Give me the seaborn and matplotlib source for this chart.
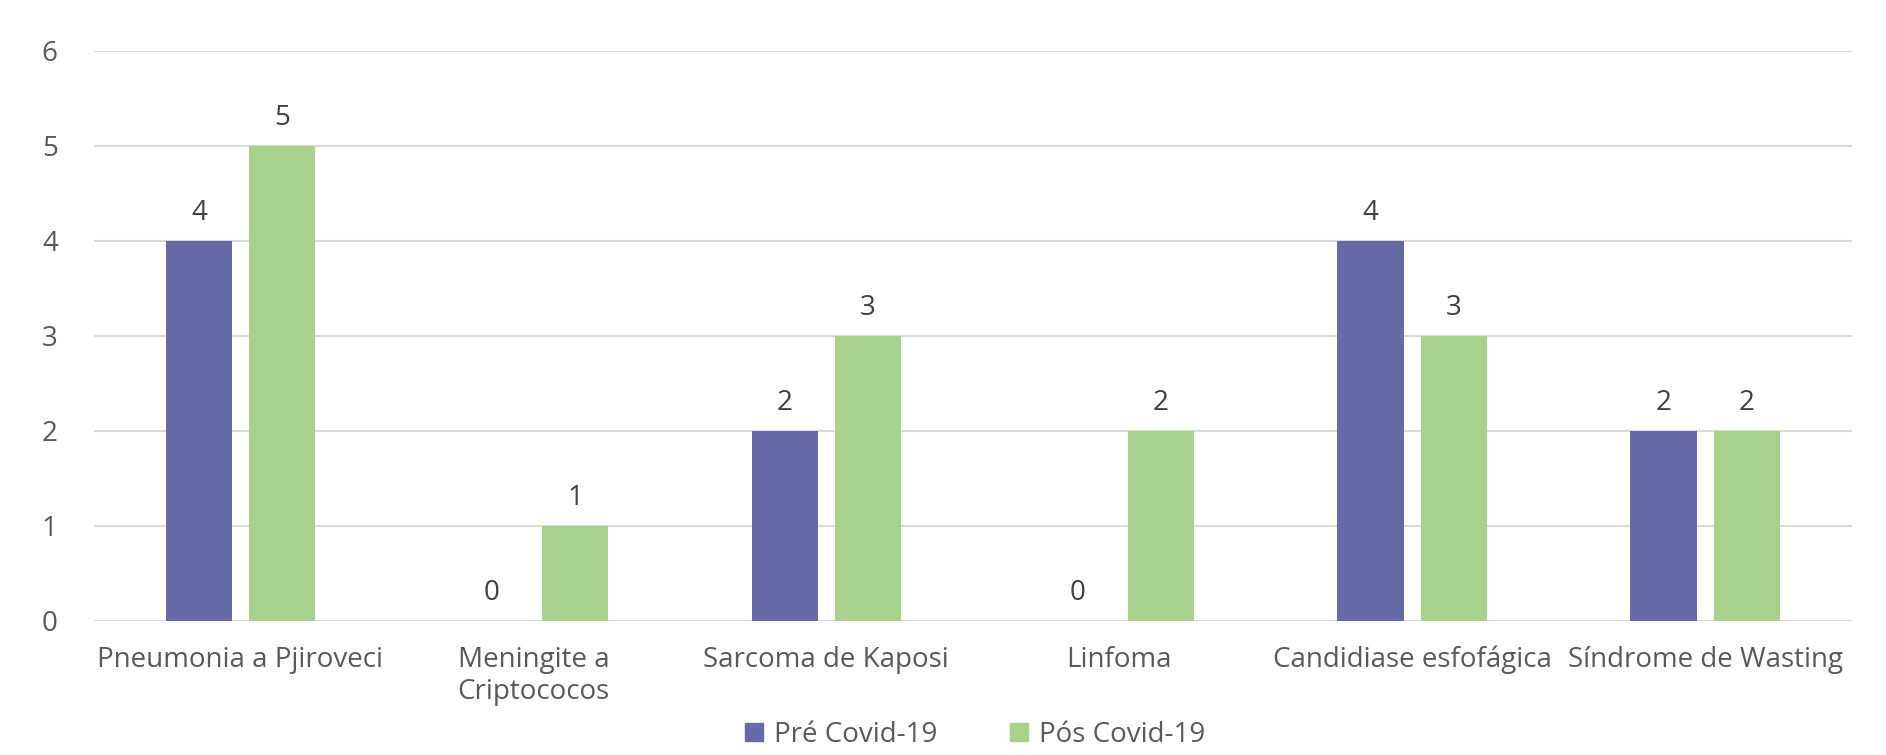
import matplotlib
matplotlib.use("Agg")
import matplotlib.pyplot as plt
import seaborn as sns
import pandas as pd

categories = ["Pneumonia a Pjiroveci", "Meningite a\nCriptococos", "Sarcoma de Kaposi",
              "Linfoma", "Candidiase esfofágica", "Síndrome de Wasting"]
pre_covid = [4, 0, 2, 0, 4, 2]
pos_covid = [5, 1, 3, 2, 3, 2]
series_names = ["Pré Covid-19", "Pós Covid-19"]
colors = ["#666BA8", "#A9D18E"]
yticks = [0, 1, 2, 3, 4, 5, 6]

df = pd.DataFrame({
    "categoria": categories * 2,
    "valor": pre_covid + pos_covid,
    "periodo": [series_names[0]] * len(categories) + [series_names[1]] * len(categories),
})

sns.set_theme(style="white")
plt.rcParams["font.family"] = ["Open Sans", "DejaVu Sans"]
text_color = "#595959"
fs = 20

fig = plt.figure(figsize=(18.86, 7.55), dpi=100)
ax = fig.add_axes([0.0498, 0.178, 0.932, 0.755])

sns.barplot(data=df, x="categoria", y="valor", hue="periodo", order=categories,
            hue_order=series_names, palette=colors, width=0.567, gap=0.2,
            saturation=1, ax=ax, legend=True, errorbar=None, linewidth=0)

for container in ax.containers:
    ax.bar_label(container, fmt="%d", padding=10, fontsize=fs, color="#404040")

ax.set_ylim(0, 6)
ax.set_yticks(yticks)
ax.set_xlim(-0.5, len(categories) - 0.5)
ax.set_xlabel("")
ax.set_ylabel("")
ax.yaxis.grid(True, color="#d9d9d9", linewidth=1.5)
ax.set_axisbelow(True)
for s in ax.spines.values():
    s.set_visible(False)
ax.tick_params(axis="y", length=0, pad=26, labelsize=fs, labelcolor=text_color)
ax.tick_params(axis="x", length=0, pad=18, labelsize=fs, labelcolor=text_color)

ax.legend_.remove()
handles = [plt.Rectangle((0, 0), 1, 1, color=c) for c in colors]
fig.legend(handles, series_names, loc="center", bbox_to_anchor=(0.517, 0.027), ncol=2,
           frameon=False, fontsize=fs, labelcolor=text_color, handlelength=0.65,
           handleheight=0.65, columnspacing=2.6, handletextpad=0.4)

fig.savefig("out.png", dpi=100)
